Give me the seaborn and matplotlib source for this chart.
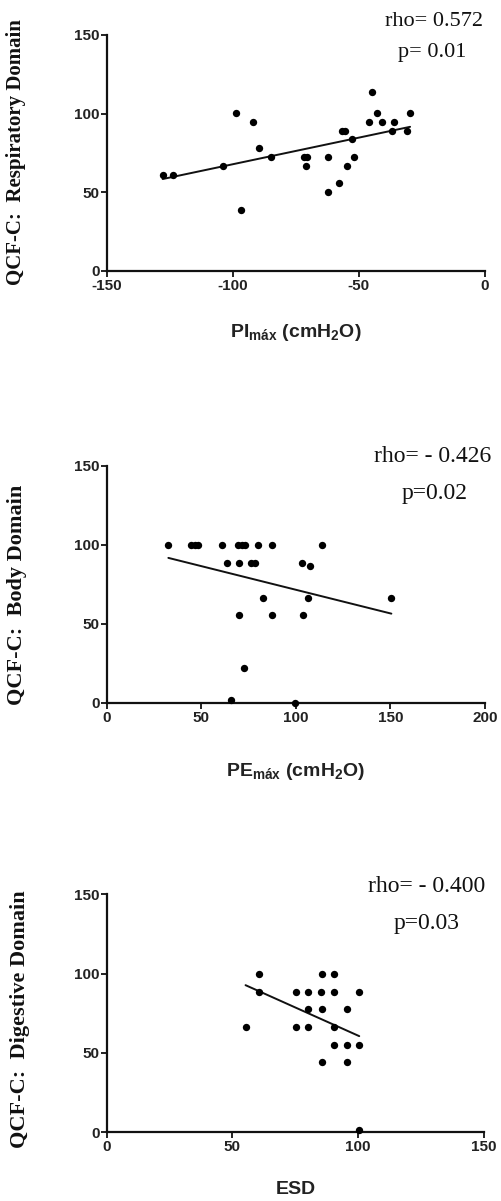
import matplotlib
matplotlib.use("Agg")
import matplotlib.pyplot as plt
import seaborn as sns
import numpy as np
import pandas as pd

# ---------------- data ----------------
pimax = [-127.8, -123.8, -103.7, -98.9, -96.6, -92.0, -89.7, -84.8, -71.8, -70.7,
         -71.0, -62.1, -62.1, -57.9, -56.8, -55.5, -54.9, -52.9, -51.8, -45.9,
         -44.7, -43.0, -40.7, -37.0, -36.0, -30.8, -29.7]
resp = [60.9, 60.9, 66.6, 100.1, 38.6, 94.6, 78.1, 72.1, 72.1, 72.1,
        66.6, 72.1, 49.9, 55.6, 89.1, 89.1, 66.6, 83.6, 72.1, 94.6,
        113.7, 100.1, 94.6, 89.1, 94.6, 89.1, 100.1]

pemax = [32.6, 44.4, 46.5, 48.2, 60.9, 69.6, 71.4, 73.2, 79.8, 87.4,
         113.7, 63.7, 69.8, 76.1, 78.2, 103.5, 107.5, 82.5, 106.3, 150.5,
         69.8, 87.4, 103.7, 72.6, 65.8, 99.6]
body = [100, 100, 100, 100, 100, 100, 100, 100, 100, 100,
        100, 88.7, 88.7, 88.7, 88.7, 88.7, 86.6, 66.6, 66.6, 66.6,
        55.8, 55.8, 55.8, 22.2, 1.7, 0]

esd = [55.2, 60.5, 60.5, 75.2, 80.1, 85.2, 90.3, 100.4, 85.4, 90.3,
       80.1, 85.4, 95.4, 75.2, 80.1, 90.3, 90.3, 95.4, 100.4, 85.4,
       95.4, 100.4]
dig = [66.1, 99.7, 88.6, 88.6, 88.6, 88.6, 88.6, 88.6, 99.7, 99.7,
       77.4, 77.4, 77.4, 66.1, 66.1, 66.1, 54.9, 54.9, 54.9, 44.0,
       44.0, 1.3]

ylabels = ["QCF-C:  Respiratory Domain", "QCF-C:  Body Domain", "QCF-C:  Digestive Domain"]
xlabels = ["PI$_{máx}$ (cmH$_2$O)", "PE$_{máx}$ (cmH$_2$O)", "ESD"]
stats1 = ["rho= 0.572", "rho= - 0.426", "rho= - 0.400"]
stats2 = ["p= 0.01", "p=0.02", "p=0.03"]
xticks = [[-150, -100, -50, 0], [0, 50, 100, 150, 200], [0, 50, 100, 150]]
yticks = [0, 50, 100, 150]

# ---------------- style ----------------
sns.set_theme(style="ticks")
plt.rcParams["font.family"] = ["Liberation Sans", "DejaVu Sans"]
plt.rcParams["mathtext.default"] = "regular"

fig = plt.figure(figsize=(5.02, 12.01), dpi=100)

W, H = 502, 1201
# axes pixel boxes: (left, top, right, bottom)
boxes = [(106.7, 35.0, 485.0, 270.7),
         (106.7, 466.0, 485.0, 702.7),
         (106.7, 894.3, 484.0, 1132.0)]
ylab_x = [16, 17, 20]
ylab_y = [152, 595, 1019]
ylab_fs = [15, 16, 16]
xlab_y = [333, 772, 1190]
stat_pos = [((434, 22), (432, 52)), ((433, 457), (435, 493)), ((427, 887), (427, 924))]
stat_fs = [16, 17, 17]

datasets = [(pimax, resp), (pemax, body), (esd, dig)]
serif = ["Liberation Serif", "DejaVu Serif"]

for i, (xs, ys) in enumerate(datasets):
    l, t, r, b = boxes[i]
    ax = fig.add_axes([l / W, 1 - b / H, (r - l) / W, (b - t) / H])
    df = pd.DataFrame({"x": xs, "y": ys})
    sns.regplot(data=df, x="x", y="y", ax=ax, ci=None, color="black",
                scatter_kws={"s": 28, "linewidths": 0, "alpha": 1.0,
                             "clip_on": False, "zorder": 3},
                line_kws={"lw": 1.4, "color": "#111111"})
    xt = xticks[i]
    ax.set_xlim(xt[0], xt[-1])
    ax.set_ylim(0, 150)
    ax.set_xticks(xt)
    ax.set_xticklabels([str(v) for v in xt])
    ax.set_yticks(yticks)
    ax.set_yticklabels([str(v) for v in yticks])
    for s in ["top", "right"]:
        ax.spines[s].set_visible(False)
    for s in ["left", "bottom"]:
        ax.spines[s].set_linewidth(1.6)
        ax.spines[s].set_color("#111111")
    ax.tick_params(axis="both", length=4, width=1.3, color="#111111",
                   labelsize=11, labelcolor="#222222")
    ax.tick_params(axis="x", pad=2)
    ax.tick_params(axis="y", pad=1)
    for lab in ax.get_xticklabels() + ax.get_yticklabels():
        lab.set_fontweight("bold")
    ax.set_xlabel("")
    ax.set_ylabel("")
    # axis labels placed in figure coordinates
    fig.text((l + r) / 2 / W, 1 - xlab_y[i] / H, xlabels[i], ha="center", va="center",
             fontsize=14, fontweight="bold", color="#222222")
    fig.text(ylab_x[i] / W, 1 - ylab_y[i] / H, ylabels[i], rotation=90,
             ha="center", va="center", fontsize=ylab_fs[i], fontweight="bold",
             family=serif, color="#111111")
    (sx1, sy1), (sx2, sy2) = stat_pos[i]
    fig.text(sx1 / W, 1 - sy1 / H, stats1[i], ha="center", va="center",
             fontsize=stat_fs[i], family=serif, color="#111111")
    fig.text(sx2 / W, 1 - sy2 / H, stats2[i], ha="center", va="center",
             fontsize=stat_fs[i], family=serif, color="#111111")

fig.savefig("out.png", dpi=100, facecolor="white")
